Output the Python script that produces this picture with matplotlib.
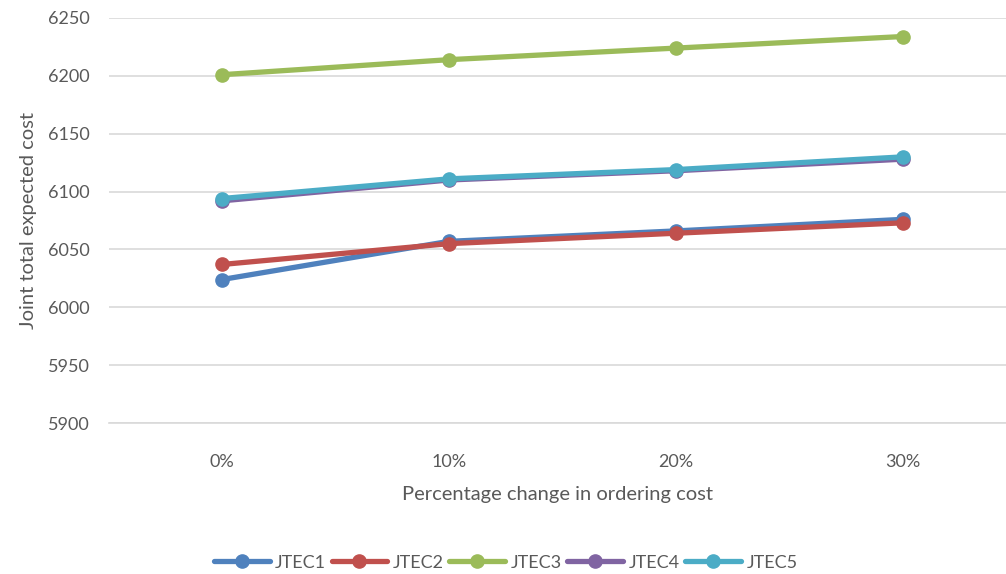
import matplotlib.pyplot as plt

# Datos de la sensibilidad frente al costo de pedido
cambios = ["0%", "10%", "20%", "30%"]
jtec1 = [6024, 6057, 6066, 6076]
jtec2 = [6037, 6055, 6064, 6073]
jtec3 = [6201, 6214, 6224, 6234]
jtec4 = [6092, 6110, 6118, 6128]
jtec5 = [6094, 6111, 6119, 6130]

series = [("JTEC1", jtec1, "#4F81BD"),
          ("JTEC2", jtec2, "#C0504D"),
          ("JTEC3", jtec3, "#9BBB59"),
          ("JTEC4", jtec4, "#8064A2"),
          ("JTEC5", jtec5, "#4BACC6")]

plt.rcParams['font.family'] = ['Lato', 'DejaVu Sans']
gris = "#595959"

fig = plt.figure(figsize=(10.06, 5.74), dpi=100)
ax = fig.add_axes([109 / 1006, 151 / 574, 1 - 109 / 1006, 405 / 574])

x = list(range(len(cambios)))
for nombre, valores, color in series:
    ax.plot(x, valores, color=color, linewidth=3.8, marker='o',
            markersize=9.5, label=nombre, solid_capstyle='round')

ax.set_xlim(-0.498, 3.454)
ax.set_ylim(5900, 6250)
ax.set_yticks(range(5900, 6251, 50))
ax.set_xticks(x)
ax.set_xticklabels(cambios)
ax.grid(axis='y', color="#D9D9D9", linewidth=1.2)
ax.set_axisbelow(True)
for lado in ["top", "right", "left"]:
    ax.spines[lado].set_visible(False)
ax.spines["bottom"].set_color("#D9D9D9")
ax.spines["bottom"].set_linewidth(1.2)
ax.tick_params(length=0, labelsize=13, colors=gris, pad=14)
ax.tick_params(axis='x', pad=22)

ax.set_ylabel("Joint total expected cost", fontsize=14.5, color=gris, labelpad=8)
ax.set_xlabel("Percentage change in ordering cost", fontsize=14.5, color=gris,
              labelpad=12)

ax.legend(loc='center', bbox_to_anchor=(0.5 - 0.5 * 109 / 897 + 0.003, -0.345),
          ncol=5, frameon=False, fontsize=13, handlelength=3.1,
          columnspacing=0.3, handletextpad=0.3, labelcolor=gris,
          borderaxespad=0)

plt.savefig("out.png", dpi=100)
plt.close()
